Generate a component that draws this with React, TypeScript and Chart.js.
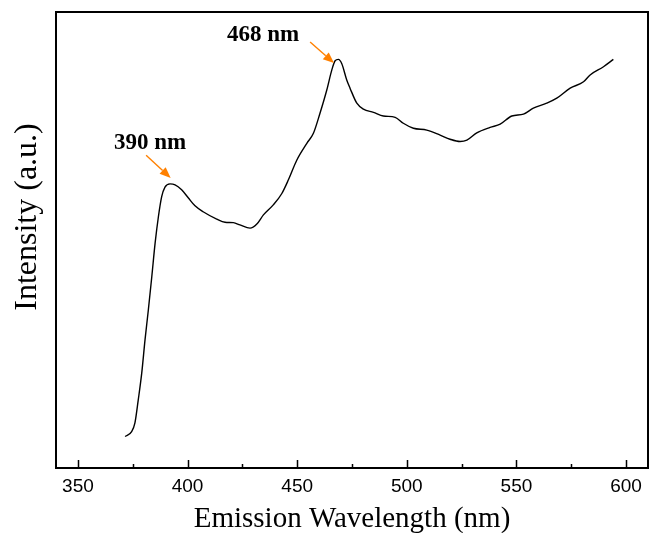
import React, { useEffect, useRef } from "react";
import { Chart, registerables } from "chart.js";

Chart.register(...registerables);

const wavelengths = [
  371.5, 374.5, 376.0, 377.5, 379.1, 380.6, 382.1, 383.7, 385.2, 386.7,
  388.2, 389.7, 392.0, 394.3, 397.3, 400.4, 403.4, 407.1, 413.3, 417.1,
  420.9, 423.9, 428.5, 431.6, 434.6, 439.1, 443.0, 446.0, 449.8, 454.4,
  457.4, 460.4, 463.5, 465.8, 467.3, 468.8, 470.3, 472.6, 474.1, 477.2,
  480.2, 484.8, 489.3, 494.7, 498.4, 503.0, 509.1, 515.2, 519.7, 524.3,
  527.4, 531.9, 538.0, 542.6, 547.9, 553.2, 557.7, 563.8, 568.4, 574.5,
  580.6, 583.6, 589.7, 594.2,
];
const intensity = [
  6.9, 8.0, 9.9, 14.9, 20.8, 28.1, 34.6, 42.0, 49.3, 55.1,
  59.5, 61.6, 62.3, 62.1, 61.0, 59.2, 57.5, 56.2, 54.6, 53.9,
  53.8, 53.3, 52.6, 53.5, 55.5, 57.7, 60.2, 63.2, 67.5, 71.2,
  73.4, 77.8, 82.9, 87.3, 89.3, 89.6, 88.7, 85.1, 83.3, 80.0,
  78.7, 78.0, 77.2, 76.9, 75.6, 74.5, 74.1, 73.0, 72.1, 71.6,
  71.9, 73.5, 74.7, 75.4, 77.2, 77.6, 78.9, 80.0, 81.1, 83.3,
  84.7, 86.2, 88.0, 89.6,
];
const xTicks = [350, 400, 450, 500, 550, 600];
const xMinorTicks = [375, 425, 475, 525, 575];
const xTitle = "Emission Wavelength (nm)";
const yTitle = "Intensity (a.u.)";
const peakLabels = ["390 nm", "468 nm"];
// annotation anchors in data units: text centre, arrow start, arrow tip
const peakTextX = [382.9, 434.4];
const peakTextY = [71.3, 95.0];
const arrowFromX = [381.1, 455.9];
const arrowFromY = [68.6, 93.4];
const arrowToX = [392.3, 466.8];
const arrowToY = [63.6, 88.8];

const decorPlugin = {
  id: "decor",
  afterDraw(chart: any) {
    const { ctx, chartArea } = chart;
    const xs = chart.scales.x;
    const ys = chart.scales.y;
    const { left, right, top, bottom } = chartArea;
    ctx.save();
    // frame
    ctx.strokeStyle = "#000";
    ctx.lineWidth = 2;
    ctx.strokeRect(left, top, right - left, bottom - top);
    // inward ticks
    ctx.lineWidth = 1.5;
    ctx.beginPath();
    xTicks.forEach((v) => {
      const px = Math.round(xs.getPixelForValue(v)) + 0.5;
      ctx.moveTo(px, bottom);
      ctx.lineTo(px, bottom - 8);
    });
    xMinorTicks.forEach((v) => {
      const px = Math.round(xs.getPixelForValue(v)) + 0.5;
      ctx.moveTo(px, bottom);
      ctx.lineTo(px, bottom - 4);
    });
    ctx.stroke();
    // axis titles
    ctx.fillStyle = "#000";
    ctx.textAlign = "center";
    ctx.textBaseline = "middle";
    ctx.font = '29px "Liberation Serif", "Times New Roman", serif';
    ctx.fillText(xTitle, (left + right) / 2, 519);
    ctx.save();
    ctx.font = '32px "Liberation Serif", "Times New Roman", serif';
    ctx.translate(28, 217);
    ctx.rotate(-Math.PI / 2);
    ctx.fillText(yTitle, 0, 0);
    ctx.restore();
    // annotations
    ctx.font = 'bold 23px "Liberation Serif", "Times New Roman", serif';
    peakLabels.forEach((lab, i) => {
      ctx.fillStyle = "#000";
      ctx.fillText(lab, xs.getPixelForValue(peakTextX[i]), ys.getPixelForValue(peakTextY[i]));
      const x1 = xs.getPixelForValue(arrowFromX[i]);
      const y1 = ys.getPixelForValue(arrowFromY[i]);
      const x2 = xs.getPixelForValue(arrowToX[i]);
      const y2 = ys.getPixelForValue(arrowToY[i]);
      const ang = Math.atan2(y2 - y1, x2 - x1);
      const headLen = 11;
      const headW = 4.5;
      const bx = x2 - headLen * Math.cos(ang);
      const by = y2 - headLen * Math.sin(ang);
      ctx.strokeStyle = "#FF8000";
      ctx.fillStyle = "#FF8000";
      ctx.lineWidth = 1.4;
      ctx.beginPath();
      ctx.moveTo(x1, y1);
      ctx.lineTo(bx, by);
      ctx.stroke();
      ctx.beginPath();
      ctx.moveTo(x2, y2);
      ctx.lineTo(bx + headW * Math.sin(ang), by - headW * Math.cos(ang));
      ctx.lineTo(bx - headW * Math.sin(ang), by + headW * Math.cos(ang));
      ctx.closePath();
      ctx.fill();
    });
    ctx.restore();
  },
};

export default function App() {
  const ref = useRef<HTMLCanvasElement | null>(null);
  useEffect(() => {
    if (!ref.current) return;
    const chart = new Chart(ref.current, {
      type: "line",
      data: {
        datasets: [
          {
            data: wavelengths.map((x, i) => ({ x, y: intensity[i] })),
            borderColor: "#000",
            borderWidth: 1.4,
            pointRadius: 0,
            cubicInterpolationMode: "monotone",
            fill: false,
          },
        ],
      },
      options: {
        animation: false,
        responsive: false,
        layout: { padding: { left: 0, right: 8, top: 12, bottom: 0 } },
        plugins: { legend: { display: false }, tooltip: { enabled: false } },
        scales: {
          x: {
            type: "linear",
            min: 340,
            max: 610,
            afterBuildTicks: (scale: any) => {
              scale.ticks = xTicks.map((v) => ({ value: v }));
            },
            afterFit: (scale: any) => {
              scale.height = 65;
            },
            grid: { display: false, drawTicks: false },
            border: { display: false },
            ticks: {
              color: "#000",
              padding: 7,
              maxRotation: 0,
              font: { family: '"Liberation Sans", Arial, sans-serif', size: 19 },
              callback: (v: any) => String(v),
            },
          },
          y: {
            type: "linear",
            min: 0,
            max: 100,
            afterFit: (scale: any) => {
              scale.width = 56;
            },
            grid: { display: false, drawTicks: false },
            border: { display: false },
            ticks: { display: false },
          },
        },
      },
      plugins: [decorPlugin],
    } as any);
    return () => chart.destroy();
  }, []);
  return (
    <div style={{ position: "absolute", left: 0, top: 0, width: 656, height: 533, background: "#fff" }}>
      <canvas ref={ref} width={656} height={533} style={{ width: 656, height: 533, display: "block" }} />
    </div>
  );
}
